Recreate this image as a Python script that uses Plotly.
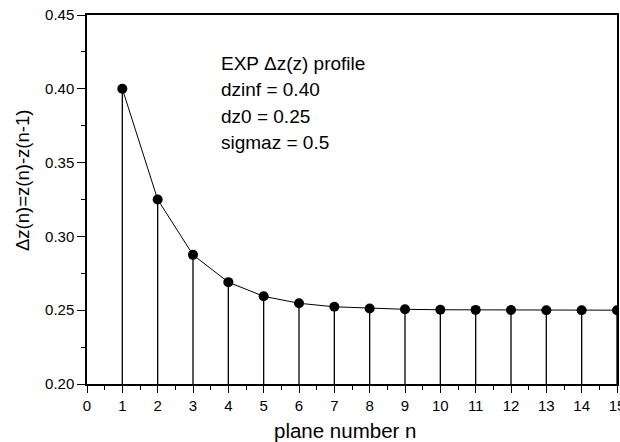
import plotly.graph_objects as go

n_values = list(range(1, 16))
dz_values = [0.400, 0.325, 0.2875, 0.269, 0.2594, 0.2547, 0.2523, 0.2512,
             0.2506, 0.2503, 0.2502, 0.2501, 0.2500, 0.2500, 0.2500]
x_ticks = list(range(0, 16))
y_ticks = [0.20, 0.25, 0.30, 0.35, 0.40, 0.45]
info_lines = ["EXP \u0394z(z) profile", "dzinf = 0.40", "dz0 = 0.25", "sigmaz = 0.5"]
x_title = "plane number n"
y_title = "\u0394z(n)=z(n)-z(n-1)"
y_base = 0.20

stem_x, stem_y = [], []
for n, v in zip(n_values, dz_values):
    stem_x += [n, n, None]
    stem_y += [y_base, v, None]

fig = go.Figure()
fig.add_trace(go.Scatter(x=stem_x, y=stem_y, mode="lines",
                         line=dict(color="black", width=1.3), hoverinfo="skip"))
fig.add_trace(go.Scatter(x=n_values, y=dz_values, mode="lines+markers",
                         line=dict(color="black", width=1),
                         marker=dict(color="black", size=10)))

font = "Liberation Sans, Arial, sans-serif"
PL, PT, PW, PH = 87, 15, 530, 369
for i, t in enumerate(info_lines):
    fig.add_annotation(text=t, xref="paper", yref="paper",
                       x=(219 - PL) / PW, y=1 - (63 + 26.5 * i - PT) / PH,
                       xanchor="left", yanchor="middle", showarrow=False,
                       font=dict(family=font, size=19, color="black"))

fig.add_annotation(text=y_title, xref="paper", yref="paper",
                   x=(22 - PL) / PW, y=1 - (181 - PT) / PH, textangle=-90,
                   xanchor="center", yanchor="middle", showarrow=False,
                   font=dict(family=font, size=18.5, color="black"))
fig.add_annotation(text=x_title, xref="paper", yref="paper",
                   x=(345 - PL) / PW, y=1 - (430 - PT) / PH,
                   xanchor="center", yanchor="middle", showarrow=False,
                   font=dict(family=font, size=20.5, color="black"))

fig.update_layout(
    width=620, height=442, showlegend=False,
    margin=dict(l=PL, r=620 - PL - PW, t=PT, b=442 - PT - PH),
    plot_bgcolor="white", paper_bgcolor="white",
    font=dict(family=font, color="black"),
)
fig.update_xaxes(range=[0, 15], tickvals=x_ticks, ticks="outside", ticklen=7,
                 tickwidth=1.3, tickcolor="black", ticklabeloverflow="allow",
                 automargin=False,
                 minor=dict(dtick=0.5, tick0=0, ticks="outside", ticklen=4, tickwidth=1.3, tickcolor="black"),
                 showline=True, linecolor="black", linewidth=1.5, mirror=True,
                 showgrid=False, zeroline=False,
                 tickfont=dict(size=15, family=font))
fig.update_yaxes(range=[0.20, 0.45], tickvals=y_ticks, tickformat=".2f",
                 ticks="outside", ticklen=8, tickwidth=1.3, tickcolor="black",
                 automargin=False,
                 minor=dict(dtick=0.025, tick0=0.2, ticks="outside", ticklen=4, tickwidth=1.3, tickcolor="black"),
                 showline=True, linecolor="black", linewidth=1.5, mirror=True,
                 showgrid=False, zeroline=False,
                 tickfont=dict(size=15, family=font))

fig.write_html("out.html")
